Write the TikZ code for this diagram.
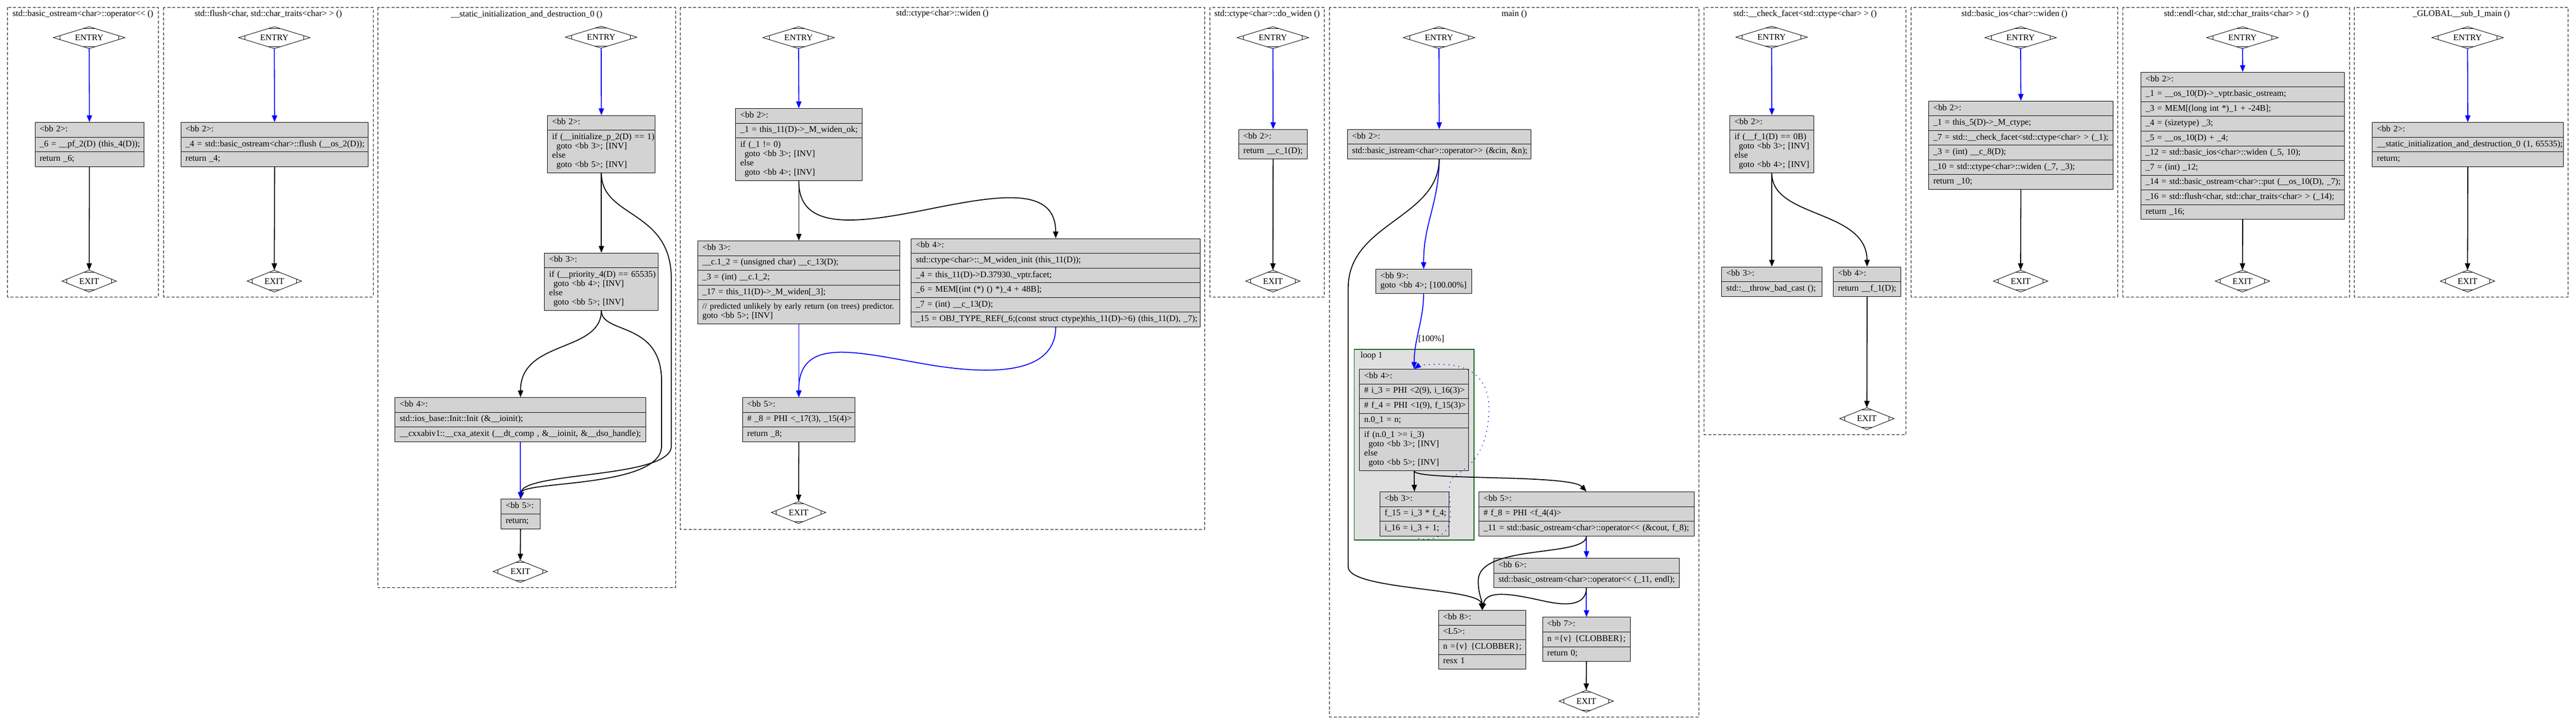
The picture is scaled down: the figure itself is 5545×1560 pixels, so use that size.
\documentclass[tikz,border=0pt]{standalone}
\usepackage{fontspec}
\setmainfont{Liberation Serif}[Ligatures=TeXOff]
\usetikzlibrary{shapes.multipart,shapes.geometric,arrows.meta,calc}
\definecolor{bbfill}{HTML}{D3D3D3}
\definecolor{loopfill}{HTML}{E0E0E0}
\definecolor{loopline}{HTML}{006400}
\newcommand{\bbrow}[1]{\begin{tabular}{@{}l@{}}#1\end{tabular}}
\tikzset{
  every node/.style={font=\fontsize{14}{15}\selectfont},
  clus/.style={draw, line width=0.75pt, dash pattern=on 5pt off 3pt},
  loopc/.style={draw=loopline, fill=loopfill, line width=1.5pt},
  bbox/.style={rectangle split, rectangle split parts=#1, draw, fill=bbfill, line width=0.75pt,
    inner xsep=7.5pt, inner ysep=4pt, anchor=north west, align=left},
  mdia/.style={diamond, draw, fill=white, line width=0.75pt, shape aspect=3.3,
    inner sep=0pt, outer sep=0pt, minimum height=35.25pt, minimum width=#1},
  entry/.style={mdia=115.5pt},
  exit/.style={mdia=87.75pt},
  ed/.style={line width=1.5pt, -{Triangle[length=11pt,width=8.5pt]}},
  bk/.style={ed, black},
  bl/.style={ed, blue},
  dotb/.style={ed, blue, line width=1.8pt, line cap=round, dash pattern=on 0pt off 8pt}
}
\begin{document}
\begin{tikzpicture}[x=0.75pt,y=-0.75pt]
\useasboundingbox (0,0) rectangle (5545,1560);

% function boxes
\draw[clus] (16,16) rectangle (341,639);
\draw[clus] (352,16) rectangle (803,639);
\draw[clus] (813,16) rectangle (1454,1265);
\draw[clus] (1464,16) rectangle (2593,1139);
\draw[clus] (2604,16) rectangle (2851,639);
\draw[clus] (2862,16) rectangle (3657,1543);
\draw[clus] (3668,16) rectangle (4103,935);
\draw[clus] (4114,16) rectangle (4558,639);
\draw[clus] (4570,16) rectangle (5058,639);
\draw[clus] (5068,16) rectangle (5528,639);
\draw[loopc] (2915,752) rectangle (3173,1162);

\node (t1) at (178.5,30) {std::basic\_ostream<char>::operator<< ()};
\node (t2) at (577.5,30) {std::flush<char, std::char\_traits<char> > ()};
\node (t3) at (1133.5,31) {\_\_static\_initialization\_and\_destruction\_0 ()};
\node (t4) at (2028.5,29) {std::ctype<char>::widen ()};
\node (t5) at (2727.5,30) {std::ctype<char>::do\_widen ()};
\node (t6) at (3259.5,30) {main ()};
\node (t7) at (3885.5,30) {std::\_\_check\_facet<std::ctype<char> > ()};
\node (t8) at (4336,30) {std::basic\_ios<char>::widen ()};
\node (t9) at (4814,30) {std::endl<char, std::char\_traits<char> > ()};
\node (t10) at (5298,30) {\_GLOBAL\_\_sub\_I\_main ()};
\node[anchor=west] (tl) at (2924,766) {loop 1};

% std::basic_ostream<char>::operator<<
\node[entry] (c1e) at (192,81) {ENTRY};
\node[bbox=3, text width=160.5pt] (c1b2) at (75,263) {\bbrow{<bb 2>:}
  \nodepart{two}\bbrow{\_6 = \_\_pf\_2(D) (this\_4(D));}
  \nodepart{three}\bbrow{return \_6;}};
\node[exit] (c1x) at (192,605) {EXIT};

% std::flush
\node[entry] (c2e) at (590.5,81) {ENTRY};
\node[bbox=3, text width=287.25pt] (c2b2) at (389,263) {\bbrow{<bb 2>:}
  \nodepart{two}\bbrow{\_4 = std::basic\_ostream<char>::flush (\_\_os\_2(D));}
  \nodepart{three}\bbrow{return \_4;}};
\node[exit] (c2x) at (590.5,605) {EXIT};

% __static_initialization_and_destruction_0
\node[entry] (c3e) at (1294,80) {ENTRY};
\node[bbox=2, text width=159pt] (c3b2) at (1178,248) {\bbrow{<bb 2>:}
  \nodepart{two}\bbrow{if (\_\_initialize\_p\_2(D) == 1)\\\hspace*{7pt}goto <bb 3>; [INV]\\else\\\hspace*{7pt}goto <bb 5>; [INV]}};
\node[bbox=2, text width=168.75pt] (c3b3) at (1171.5,544) {\bbrow{<bb 3>:}
  \nodepart{two}\bbrow{if (\_\_priority\_4(D) == 65535)\\\hspace*{7pt}goto <bb 4>; [INV]\\else\\\hspace*{7pt}goto <bb 5>; [INV]}};
\node[bbox=3, text width=390pt] (c3b4) at (850,855) {\bbrow{<bb 4>:}
  \nodepart{two}\bbrow{std::ios\_base::Init::Init (\&\_\_ioinit);}
  \nodepart{three}\bbrow{\_\_cxxabiv1::\_\_cxa\_atexit (\_\_dt\_comp , \&\_\_ioinit, \&\_\_dso\_handle);}};
\node[bbox=2, text width=48pt] (c3b5) at (1078,1074) {\bbrow{<bb 5>:}
  \nodepart{two}\bbrow{return;}};
\node[exit] (c3x) at (1120,1230) {EXIT};

% std::ctype<char>::widen
\node[entry] (c4e) at (1719,81) {ENTRY};
\node[bbox=3, text width=189pt] (c4b2) at (1583,233) {\bbrow{<bb 2>:}
  \nodepart{two}\bbrow{\_1 = this\_11(D)->\_M\_widen\_ok;}
  \nodepart{three}\bbrow{if (\_1 != 0)\\\hspace*{7pt}goto <bb 3>; [INV]\\else\\\hspace*{7pt}goto <bb 4>; [INV]}};
\node[bbox=5, text width=311.25pt] (c4b3) at (1501.5,518) {\bbrow{<bb 3>:}
  \nodepart{two}\bbrow{\_\_c.1\_2 = (unsigned char) \_\_c\_13(D);}
  \nodepart{three}\bbrow{\_3 = (int) \_\_c.1\_2;}
  \nodepart{four}\bbrow{\_17 = this\_11(D)->\_M\_widen[\_3];}
  \nodepart{five}\bbrow{{\fontsize{13.4}{15}\selectfont // predicted unlikely by early return (on trees) predictor.}\\goto <bb 5>; [INV]}};
\node[bbox=6, text width=451.5pt] (c4b4) at (1961,513) {\bbrow{<bb 4>:}
  \nodepart{two}\bbrow{std::ctype<char>::\_M\_widen\_init (this\_11(D));}
  \nodepart{three}\bbrow{\_4 = this\_11(D)->D.37930.\_vptr.facet;}
  \nodepart{four}\bbrow{\_6 = MEM[(int (*) () *)\_4 + 48B];}
  \nodepart{five}\bbrow{\_7 = (int) \_\_c\_13(D);}
  \nodepart{six}\bbrow{\_15 = OBJ\_TYPE\_REF(\_6;(const struct ctype)this\_11(D)->6) (this\_11(D), \_7);}};
\node[bbox=3, text width=166.5pt] (c4b5) at (1598,855) {\bbrow{<bb 5>:}
  \nodepart{two}\bbrow{\# \_8 = PHI <\_17(3), \_15(4)>}
  \nodepart{three}\bbrow{return \_8;}};
\node[exit] (c4x) at (1719,1103) {EXIT};

% std::ctype<char>::do_widen
\node[entry] (c5e) at (2740,81) {ENTRY};
\node[bbox=2, text width=96pt] (c5b2) at (2666,278) {\bbrow{<bb 2>:}
  \nodepart{two}\bbrow{return \_\_c\_1(D);}};
\node[exit] (c5x) at (2740,605) {EXIT};

% main
\node[entry] (c6e) at (3097.5,81) {ENTRY};
\node[bbox=2, text width=281.25pt] (c6b2) at (2900,278) {\bbrow{<bb 2>:}
  \nodepart{two}\bbrow{std::basic\_istream<char>::operator>> (\&cin, \&n);}};
\node[bbox=1, text width=139.5pt] (c6b9) at (2961,579) {\bbrow{<bb 9>:\\goto <bb 4>; [100.00\%]}};
\node[bbox=5, text width=161.25pt] (c6b4) at (2926,794) {\bbrow{<bb 4>:}
  \nodepart{two}\bbrow{\# i\_3 = PHI <2(9), i\_16(3)>}
  \nodepart{three}\bbrow{\# f\_4 = PHI <1(9), f\_15(3)>}
  \nodepart{four}\bbrow{n.0\_1 = n;}
  \nodepart{five}\bbrow{if (n.0\_1 >= i\_3)\\\hspace*{7pt}goto <bb 3>; [INV]\\else\\\hspace*{7pt}goto <bb 5>; [INV]}};
\node[bbox=3, text width=96pt] (c6b3) at (2970,1058) {\bbrow{<bb 3>:}
  \nodepart{two}\bbrow{f\_15 = i\_3 * f\_4;}
  \nodepart{three}\bbrow{i\_16 = i\_3 + 1;}};
\node[bbox=3, text width=332.25pt] (c6b5) at (3183,1058) {\bbrow{<bb 5>:}
  \nodepart{two}\bbrow{\# f\_8 = PHI <f\_4(4)>}
  \nodepart{three}\bbrow{\_11 = std::basic\_ostream<char>::operator<< (\&cout, f\_8);}};
\node[bbox=2, text width=284.25pt] (c6b6) at (3215,1201) {\bbrow{<bb 6>:}
  \nodepart{two}\bbrow{std::basic\_ostream<char>::operator<< (\_11, endl);}};
\node[bbox=4, text width=126pt] (c6b8) at (3096,1313) {\bbrow{<bb 8>:}
  \nodepart{two}\bbrow{<L5>:}
  \nodepart{three}\bbrow{n =\{v\} \{CLOBBER\};}
  \nodepart{four}\bbrow{resx 1}};
\node[bbox=3, text width=126.75pt] (c6b7) at (3320,1328) {\bbrow{<bb 7>:}
  \nodepart{two}\bbrow{n =\{v\} \{CLOBBER\};}
  \nodepart{three}\bbrow{return 0;}};
\node[exit] (c6x) at (3414.5,1509) {EXIT};

% std::__check_facet
\node[entry] (c7e) at (3813.5,80) {ENTRY};
\node[bbox=2, text width=120.75pt] (c7b2) at (3723,248) {\bbrow{<bb 2>:}
  \nodepart{two}\bbrow{if (\_\_f\_1(D) == 0B)\\\hspace*{7pt}goto <bb 3>; [INV]\\else\\\hspace*{7pt}goto <bb 4>; [INV]}};
\node[bbox=2, text width=147pt] (c7b3) at (3705.5,574) {\bbrow{<bb 3>:}
  \nodepart{two}\bbrow{std::\_\_throw\_bad\_cast ();}};
\node[bbox=2, text width=93.75pt] (c7b4) at (3946,574) {\bbrow{<bb 4>:}
  \nodepart{two}\bbrow{return \_\_f\_1(D);}};
\node[exit] (c7x) at (4018.5,901) {EXIT};

% std::basic_ios<char>::widen
\node[entry] (c8e) at (4349.5,81) {ENTRY};
\node[bbox=6, text width=282.75pt] (c8b2) at (4151,217) {\bbrow{<bb 2>:}
  \nodepart{two}\bbrow{\_1 = this\_5(D)->\_M\_ctype;}
  \nodepart{three}\bbrow{\_7 = std::\_\_check\_facet<std::ctype<char> > (\_1);}
  \nodepart{four}\bbrow{\_3 = (int) \_\_c\_8(D);}
  \nodepart{five}\bbrow{\_10 = std::ctype<char>::widen (\_7, \_3);}
  \nodepart{six}\bbrow{return \_10;}};
\node[exit] (c8x) at (4349.5,605) {EXIT};

% std::endl
\node[entry] (c9e) at (4827,81) {ENTRY};
\node[bbox=10, text width=313.5pt] (c9b2) at (4608,155) {\bbrow{<bb 2>:}
  \nodepart{two}\bbrow{\_1 = \_\_os\_10(D)->\_vptr.basic\_ostream;}
  \nodepart{three}\bbrow{\_3 = MEM[(long int *)\_1 + -24B];}
  \nodepart{four}\bbrow{\_4 = (sizetype) \_3;}
  \nodepart{five}\bbrow{\_5 = \_\_os\_10(D) + \_4;}
  \nodepart{six}\bbrow{\_12 = std::basic\_ios<char>::widen (\_5, 10);}
  \nodepart{seven}\bbrow{\_7 = (int) \_12;}
  \nodepart{eight}\bbrow{\_14 = std::basic\_ostream<char>::put (\_\_os\_10(D), \_7);}
  \nodepart{nine}\bbrow{\_16 = std::flush<char, std::char\_traits<char> > (\_14);}
  \nodepart{ten}\bbrow{return \_16;}};
\node[exit] (c9x) at (4827,605) {EXIT};

% _GLOBAL__sub_I_main
\node[entry] (c10e) at (5311.5,81) {ENTRY};
\node[bbox=3, text width=293.25pt] (c10b2) at (5106,263) {\bbrow{<bb 2>:}
  \nodepart{two}\bbrow{\_\_static\_initialization\_and\_destruction\_0 (1, 65535);}
  \nodepart{three}\bbrow{return;}};
\node[exit] (c10x) at (5311.5,605) {EXIT};

% corner marks of the ENTRY/EXIT diamonds
\foreach \d in {c1e,c1x,c2e,c2x,c3e,c3x,c4e,c4x,c5e,c5x,c6e,c6x,c7e,c7x,c8e,c8x,c9e,c9x,c10e,c10x}
  \draw[line width=0.75pt] ($(\d.north)!0.18!(\d.west)$) -- ($(\d.north)!0.18!(\d.east)$)
    ($(\d.south)!0.18!(\d.west)$) -- ($(\d.south)!0.18!(\d.east)$)
    ($(\d.west)!0.18!(\d.north)$) -- ($(\d.west)!0.18!(\d.south)$)
    ($(\d.east)!0.18!(\d.north)$) -- ($(\d.east)!0.18!(\d.south)$);

% straight single-block functions
\foreach \c in {c1,c2,c5,c8,c9,c10} {
  \draw[bl] (\c e.south) -- (\c b2.north);
  \draw[bk] (\c b2.south) -- (\c x.north);
}

% static init edges
\draw[bl] (c3e.south) -- (c3b2.north);
\draw[bk] (c3b2.south) -- (c3b3.north);
\draw[bk] (c3b2.south) .. controls (1294,470) and (1445,450) .. (1445,600) -- (1445,960)
  .. controls (1445,1030) and (1125,1015) .. (c3b5.north);
\draw[bk] (c3b3.south) .. controls (1294,760) and (1120,730) .. (c3b4.north);
\draw[bk] (c3b3.south) .. controls (1294,720) and (1424,690) .. (1424,820) -- (1424,960)
  .. controls (1424,1050) and (1125,1035) .. (c3b5.north);
\draw[bl] (c3b4.south) -- (c3b5.north);
\draw[bk] (c3b5.south) -- (c3x.north);

% ctype widen edges
\draw[bl] (c4e.south) -- (c4b2.north);
\draw[bk] (c4b2.south) -- (c4b3.north);
\draw[bk] (c4b2.south) .. controls (1718,500) and (1850,480) .. (2000,450)
  .. controls (2150,420) and (2272,400) .. (c4b4.north);
\draw[bl] (c4b3.south) -- (c4b5.north);
\draw[bl] (c4b4.south) .. controls (2272,800) and (2150,810) .. (2000,785)
  .. controls (1850,760) and (1718,720) .. (c4b5.north);
\draw[bk] (c4b5.south) -- (c4x.north);

% main edges
\draw[bl] (c6e.south) -- (c6b2.north);
\draw[bl] (c6b2.south) .. controls (3097,440) and (3064,480) .. (c6b9.north);
\draw[bk] (c6b2.south) .. controls (3097,470) and (2902,480) .. (2902,620) -- (2902,1220)
  .. controls (2902,1270) and (3185,1265) .. (c6b8.north);
\draw[bl] (c6b9.south) .. controls (3064,690) and (3044,730) ..
  node[pos=0.62, right, inner sep=1pt, text=black] (lbl) {[100\%]} (c6b4.north);
\draw[bk] (c6b4.south) -- (c6b3.north);
\draw[bk] (c6b4.south) .. controls (3044,1035) and (3380,1020) .. (c6b5.north);
\draw[dotb] (c6b3.south) .. controls (3050,1165) and (3122,1170) .. (3122,1110)
  .. controls (3122,1060) and (3110,1035) .. (3140,1018)
  .. controls (3190,990) and (3205,930) .. (3205,880)
  .. controls (3205,810) and (3160,784) .. (3100,784)
  .. controls (3070,784) and (3055,786) .. (c6b4.north);
\draw[bl] (c6b5.south) -- (c6b6.north);
\draw[bk] (c6b5.south) .. controls (3414,1200) and (3182,1170) .. (3182,1250)
  .. controls (3182,1280) and (3190,1290) .. (c6b8.north);
\draw[bl] (c6b6.south) -- (c6b7.north);
\draw[bk] (c6b6.south) .. controls (3414,1300) and (3380,1305) .. (3330,1295)
  .. controls (3270,1282) and (3200,1265) .. (c6b8.north);
\draw[bk] (c6b7.south) -- (c6x.north);

% check_facet edges
\draw[bl] (c7e.south) -- (c7b2.north);
\draw[bk] (c7b2.south) -- (c7b3.north);
\draw[bk] (c7b2.south) .. controls (3813,470) and (4018,450) .. (c7b4.north);
\draw[bk] (c7b4.south) -- (c7x.north);
\end{tikzpicture}
\end{document}
